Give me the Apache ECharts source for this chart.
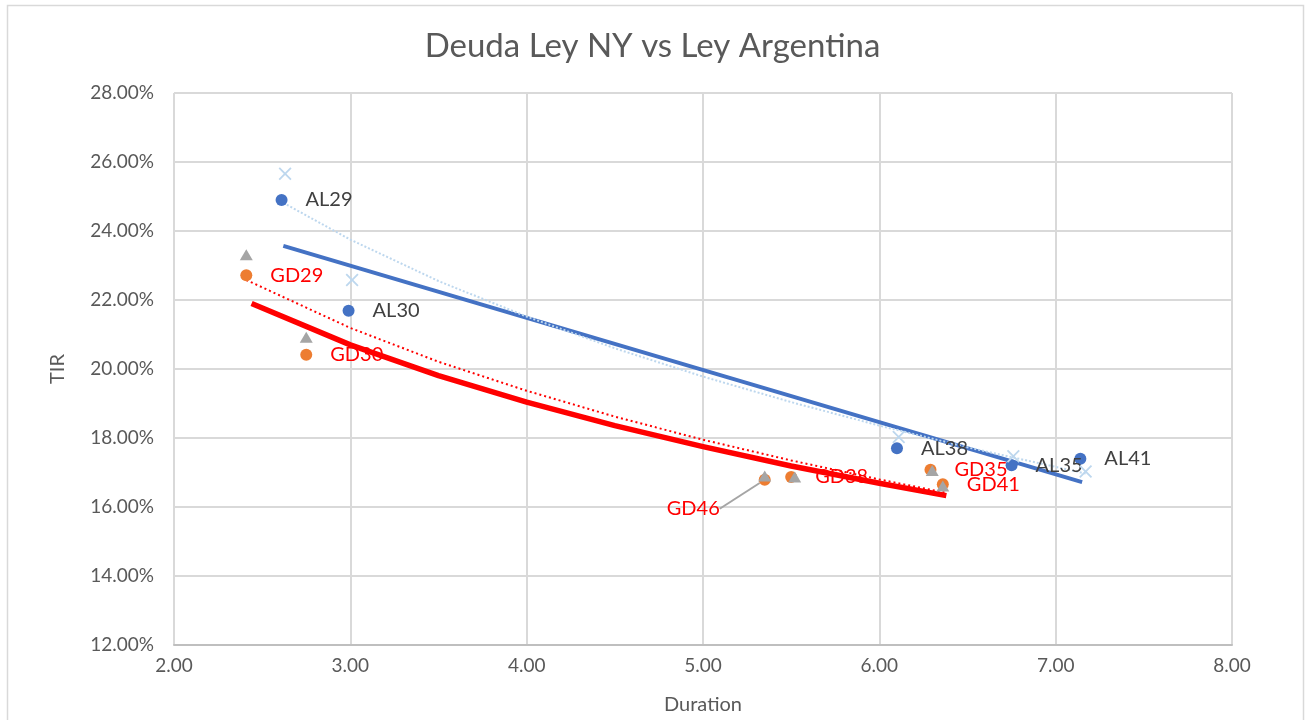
<!DOCTYPE html>
<html>
<head>
<meta charset="utf-8">
<script src="https://cdn.jsdelivr.net/npm/echarts@6/dist/echarts.min.js"></script>
<style>
html,body{margin:0;padding:0;background:#fff;}
#c{width:1305px;height:720px;}
</style>
</head>
<body>
<div id="c"></div>
<script>
// ---- data ----
var alNames = ['AL29', 'AL30', 'AL38', 'AL35', 'AL41'];
var alDur = [2.61, 2.99, 6.10, 6.75, 7.14];
var alTir = [24.90, 21.69, 17.70, 17.21, 17.40];

var crossDur = [2.63, 3.01, 6.11, 6.76, 7.17];
var crossTir = [25.66, 22.58, 18.03, 17.47, 17.03];

var gdNames = ['GD29', 'GD30', 'GD46', 'GD38', 'GD35', 'GD41'];
var gdDur = [2.41, 2.75, 5.35, 5.50, 6.29, 6.36];
var gdTir = [22.72, 20.41, 16.79, 16.87, 17.08, 16.66];

var triDur = [2.41, 2.75, 5.35, 5.52, 6.30, 6.36];
var triTir = [23.31, 20.92, 16.90, 16.87, 17.06, 16.61];

// trend lines
var blueTrendDur = [2.62, 7.15];
var blueTrendTir = [23.57, 16.72];
var lightTrendDur = [2.64, 3.00, 3.50, 4.00, 4.50, 5.00, 5.50, 6.00, 6.50, 7.17];
var lightTrendTir = [24.76, 23.75, 22.55, 21.52, 20.60, 19.78, 19.04, 18.36, 17.73, 16.97];
var redThickDur = [2.44, 3.00, 3.50, 4.00, 4.50, 5.00, 5.50, 6.00, 6.38];
var redThickTir = [21.90, 20.70, 19.81, 19.04, 18.36, 17.75, 17.19, 16.69, 16.33];
var redDotDur = [2.41, 3.00, 3.50, 4.00, 4.50, 5.00, 5.50, 6.00, 6.37];
var redDotTir = [22.58, 21.19, 20.21, 19.37, 18.62, 17.95, 17.35, 16.80, 16.42];

var xTicks = [2, 3, 4, 5, 6, 7, 8];
var yTicks = [12, 14, 16, 18, 20, 22, 24, 26, 28];

function zip(a, b) { return a.map(function (v, i) { return [v, b[i]]; }); }

var FONT = 'Lato';
var crossPath = 'path://M0,1 L1,0 L5,4 L9,0 L10,1 L6,5 L10,9 L9,10 L5,6 L1,10 L0,9 L4,5 Z';

var chart = echarts.init(document.getElementById('c'), null, {renderer: 'canvas'});
var option = {
  backgroundColor: '#ffffff',
  animation: false,
  title: {
    text: 'Deuda Ley NY vs Ley Argentina',
    left: 'center',
    top: 25,
    textStyle: {fontFamily: FONT, fontWeight: 'normal', fontSize: 33, color: '#595959'}
  },
  graphic: [{
    type: 'rect', left: 5, top: 3, z: -10,
    shape: {width: 1296, height: 730},
    style: {fill: 'none', stroke: '#D9D9D9', lineWidth: 1.5}
  }],
  grid: {left: 174, right: 73, top: 93, bottom: 75},
  xAxis: {
    type: 'value', min: xTicks[0], max: xTicks[xTicks.length - 1], interval: 1,
    name: 'Duration', nameLocation: 'middle', nameGap: 50,
    nameTextStyle: {fontFamily: FONT, fontSize: 20, color: '#595959'},
    axisLine: {show: true, lineStyle: {color: '#BFBFBF', width: 2}},
    axisTick: {show: false},
    axisLabel: {fontFamily: FONT, fontSize: 19, color: '#595959', margin: 11,
      formatter: function (v) { return v.toFixed(2); }},
    splitLine: {show: true, lineStyle: {color: '#D9D9D9', width: 2}}
  },
  yAxis: {
    type: 'value', min: yTicks[0], max: yTicks[yTicks.length - 1], interval: 2,
    name: 'TIR', nameLocation: 'middle', nameGap: 106, nameRotate: 90,
    nameTextStyle: {fontFamily: FONT, fontSize: 20, color: '#595959'},
    axisLine: {show: false},
    axisTick: {show: false},
    axisLabel: {fontFamily: FONT, fontSize: 19, color: '#595959', margin: 20,
      formatter: function (v) { return v.toFixed(2) + '%'; }},
    splitLine: {show: true, lineStyle: {color: '#D9D9D9', width: 2}}
  },
  series: [
    {
      type: 'line', name: 'trendAL', data: zip(blueTrendDur, blueTrendTir),
      symbol: 'none', lineStyle: {color: '#4472C4', width: 4}, z: 2
    },
    {
      type: 'line', name: 'trendCross', data: zip(lightTrendDur, lightTrendTir),
      symbol: 'none', smooth: false,
      lineStyle: {color: '#BDD7EE', width: 2, type: [2, 2]}, z: 2
    },
    {
      type: 'line', name: 'trendGDthick', data: zip(redThickDur, redThickTir),
      symbol: 'none', smooth: false,
      lineStyle: {color: '#FF0000', width: 5.5, join: 'round'}, z: 2
    },
    {
      type: 'line', name: 'trendGDdot', data: zip(redDotDur, redDotTir),
      symbol: 'none', smooth: false,
      lineStyle: {color: '#FF0000', width: 2, type: [2, 3]}, z: 2
    },
    {
      type: 'scatter', name: 'AL', z: 5,
      data: alDur.map(function (d, i) { return {value: [d, alTir[i]], name: alNames[i]}; }),
      symbol: 'circle', symbolSize: 12,
      itemStyle: {color: '#4472C4', opacity: 1},
      label: {show: true, position: 'right', distance: 18, formatter: '{b}',
        fontFamily: FONT, fontSize: 20, color: '#404040'}
    },
    {
      type: 'scatter', name: 'GD', z: 5,
      data: gdDur.map(function (d, i) {
        var item = {value: [d, gdTir[i]], name: gdNames[i]};
        if (gdNames[i] === 'GD46') {
          item.labelLine = {show: true, lineStyle: {color: '#A5A5A5', width: 2}};
        }
        return item;
      }),
      symbol: 'circle', symbolSize: 12,
      itemStyle: {color: '#ED7D31', opacity: 1},
      label: {show: true, position: 'right', distance: 18, formatter: '{b}',
        fontFamily: FONT, fontSize: 20, color: '#FF0000'},
      labelLine: {show: false},
      labelLayout: function (p) {
        if (gdNames[p.dataIndex] === 'GD46') {
          return {dx: -122, dy: 29};
        }
        return {};
      }
    },
    {
      type: 'scatter', name: 'GDtri', z: 6,
      data: zip(triDur, triTir),
      symbol: 'triangle', symbolSize: [13, 11],
      itemStyle: {color: '#A5A5A5', opacity: 1}
    },
    {
      type: 'scatter', name: 'ALcross', z: 6,
      data: zip(crossDur, crossTir),
      symbol: crossPath, symbolSize: 13,
      itemStyle: {color: '#BDD7EE', opacity: 1}
    }
  ]
};
chart.setOption(option);
</script>
</body>
</html>
